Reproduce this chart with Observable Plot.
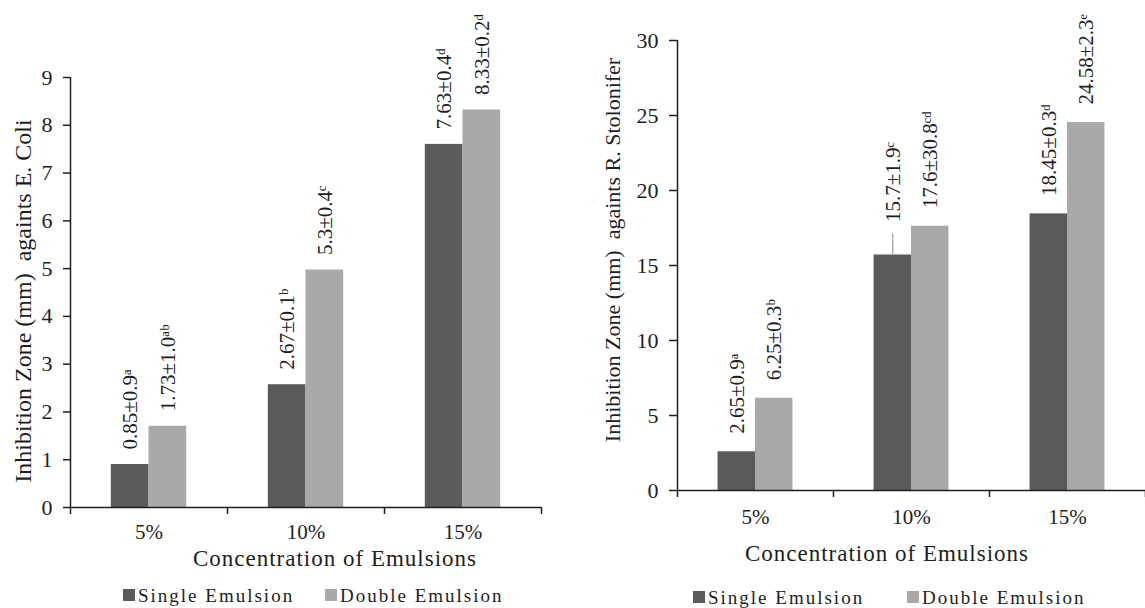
<!DOCTYPE html>
<html>
<head>
<meta charset="utf-8">
<script src="https://cdn.jsdelivr.net/npm/d3@7"></script>
<script src="https://cdn.jsdelivr.net/npm/@observablehq/plot@0.6"></script>
<style>
  html, body { margin: 0; padding: 0; background: #fff; }
  #wrap { position: relative; width: 1145px; height: 608px; overflow: hidden; font-family: "Liberation Serif", "Times New Roman", serif; color: #1e1e1e; }
  .abs { position: absolute; white-space: pre; line-height: 1; }
  .ytitle { transform: translate(-50%, -50%) rotate(-90deg); }
  .xtitle { transform: translate(-50%, -50%); letter-spacing: 1px; font-size: 23px; }
  .leg { font-size: 19px; letter-spacing: 2px; transform: translateY(-50%); }
  .sw { width: 12px; height: 12px; transform: translateY(-50%); }
</style>
</head>
<body>
<div id="wrap"></div>
<script>
// ---------- data ----------
const categories = ["5%", "10%", "15%"];
const seriesNames = ["Single Emulsion", "Double Emulsion"];
const seriesColors = ["#5a5a5a", "#a9a9a9"];

const ecoliSingle = [0.9, 2.57, 7.6];
const ecoliDouble = [1.7, 4.97, 8.32];
const ecoliSingleLabels = ["0.85±0.9ᵃ", "2.67±0.1ᵇ", "7.63±0.4ᵈ"];
const ecoliDoubleLabels = ["1.73±1.0ᵃᵇ", "5.3±0.4ᶜ", "8.33±0.2ᵈ"];
const ecoliTicks = [0, 1, 2, 3, 4, 5, 6, 7, 8, 9];

const rhizSingle = [2.58, 15.7, 18.44];
const rhizDouble = [6.15, 17.62, 24.53];
const rhizSingleLabels = ["2.65±0.9ᵃ", "15.7±1.9ᶜ", "18.45±0.3ᵈ"];
const rhizDoubleLabels = ["6.25±0.3ᵇ", "17.6±30.8ᶜᵈ", "24.58±2.3ᵉ"];
const rhizTicks = [0, 5, 10, 15, 20, 25, 30];

// ---------- helpers ----------
const BAR_W = 0.24; // bar width in category-band units
function buildRows(single, double, singleLabels, doubleLabels) {
  const rows = [];
  categories.forEach((c, i) => {
    rows.push({cat: c, i, series: seriesNames[0], value: single[i], label: singleLabels[i], x1: i + 0.5 - BAR_W, x2: i + 0.5});
    rows.push({cat: c, i, series: seriesNames[1], value: double[i], label: doubleLabels[i], x1: i + 0.5, x2: i + 0.5 + BAR_W});
  });
  return rows;
}

function makeChart(cfg) {
  const rows = buildRows(cfg.single, cfg.double, cfg.singleLabels, cfg.doubleLabels);
  const isLeader = (d) => cfg.leader && d.cat === cfg.leader.cat && d.series === cfg.leader.series;
  const ink = "#1e1e1e";
  return Plot.plot({
    width: cfg.width,
    height: cfg.height,
    marginLeft: cfg.marginLeft,
    marginRight: cfg.marginRight,
    marginTop: cfg.marginTop,
    marginBottom: cfg.marginBottom,
    style: {fontFamily: "Liberation Serif, Times New Roman, serif", fontSize: "22px", color: ink, background: "transparent", overflow: "visible"},
    x: {type: "linear", domain: [0, categories.length]},
    y: {domain: [0, d3.max(cfg.ticks)]},
    color: {domain: seriesNames, range: seriesColors},
    marks: [
      Plot.rectY(rows, {x1: "x1", x2: "x2", y1: 0, y2: "value", fill: "series"}),
      // value labels (rotated)
      Plot.text(rows.filter((d) => !isLeader(d)), {
        x: (d) => (d.x1 + d.x2) / 2, y: "value", text: "label",
        rotate: -90, textAnchor: "start", dy: -cfg.labelGap,
        fontSize: cfg.labelSize, fill: ink
      }),
      Plot.text(rows.filter(isLeader), {
        x: (d) => (d.x1 + d.x2) / 2, y: "value", text: "label",
        rotate: -90, textAnchor: "start", dy: -(cfg.labelGap + 15),
        fontSize: cfg.labelSize, fill: ink
      }),
      Plot.ruleX(rows.filter(isLeader), {
        x: (d) => (d.x1 + d.x2) / 2, y1: "value", y2: "value",
        insetBottom: 21, stroke: "#8a8a8a", strokeWidth: 1
      }),
      // axes
      Plot.axisY({ticks: cfg.ticks, tickSize: cfg.tickSize, tickPadding: 11, fontSize: 22, stroke: ink, strokeWidth: 1.5, label: null}),
      Plot.axisX({ticks: d3.range(categories.length + 1), tickSize: 7, tickFormat: () => "", stroke: ink, strokeWidth: 1.5, label: null}),
      Plot.axisX({ticks: categories.map((c, i) => i + 0.5), tickSize: 0, tickPadding: cfg.xPad, tickFormat: (v) => categories[Math.floor(v)], fontSize: 21, label: null}),
      Plot.ruleX([0], {stroke: ink, strokeWidth: 1.5}),
      Plot.ruleY([0], {stroke: ink, strokeWidth: 1.5})
    ]
  });
}

const wrap = document.getElementById("wrap");
function place(el, left, top) {
  el.style.position = "absolute";
  el.style.left = left + "px";
  el.style.top = top + "px";
  wrap.appendChild(el);
}
function addDiv(cls, text, left, top, extra = {}) {
  const d = document.createElement("div");
  d.className = "abs " + cls;
  d.textContent = text;
  Object.assign(d.style, extra);
  d.style.left = left + "px";
  d.style.top = top + "px";
  wrap.appendChild(d);
  return d;
}

// ---------- left chart: E. coli ----------
const left = makeChart({
  single: ecoliSingle, double: ecoliDouble,
  singleLabels: ecoliSingleLabels, doubleLabels: ecoliDoubleLabels,
  ticks: ecoliTicks,
  width: 545, height: 560, marginLeft: 70, marginRight: 4, marginTop: 77, marginBottom: 53,
  tickSize: 7, xPad: 17, labelGap: 15, labelSize: 21
});
place(left, 0, 0);

// ---------- right chart: R. stolonifer ----------
const right = makeChart({
  single: rhizSingle, double: rhizDouble,
  singleLabels: rhizSingleLabels, doubleLabels: rhizDoubleLabels,
  ticks: rhizTicks,
  width: 585, height: 545, marginLeft: 117, marginRight: 0, marginTop: 40, marginBottom: 55,
  tickSize: 8, xPad: 19, labelGap: 18, labelSize: 21,
  leader: {cat: "10%", series: "Single Emulsion"}
});
place(right, 560, 0);

// ---------- titles ----------
addDiv("ytitle", "Inhibition Zone (mm)  againts E. Coli", 23, 301, {fontSize: "24px"});
addDiv("ytitle", "Inhibition Zone (mm)  againts R. Stolonifer", 613, 250, {fontSize: "22px"});
addDiv("xtitle", "Concentration of Emulsions", 335, 558);
addDiv("xtitle", "Concentration of Emulsions", 887, 553);

// ---------- legends ----------
function legend(x0, x1, y) {
  [x0, x1].forEach((x, k) => {
    const sw = document.createElement("div");
    sw.className = "abs sw";
    sw.style.background = seriesColors[k];
    sw.style.left = x + "px";
    sw.style.top = y + "px";
    wrap.appendChild(sw);
    addDiv("leg", seriesNames[k], x + 15, y);
  });
}
legend(123, 325, 595);
legend(693, 907, 597);
</script>
</body>
</html>
